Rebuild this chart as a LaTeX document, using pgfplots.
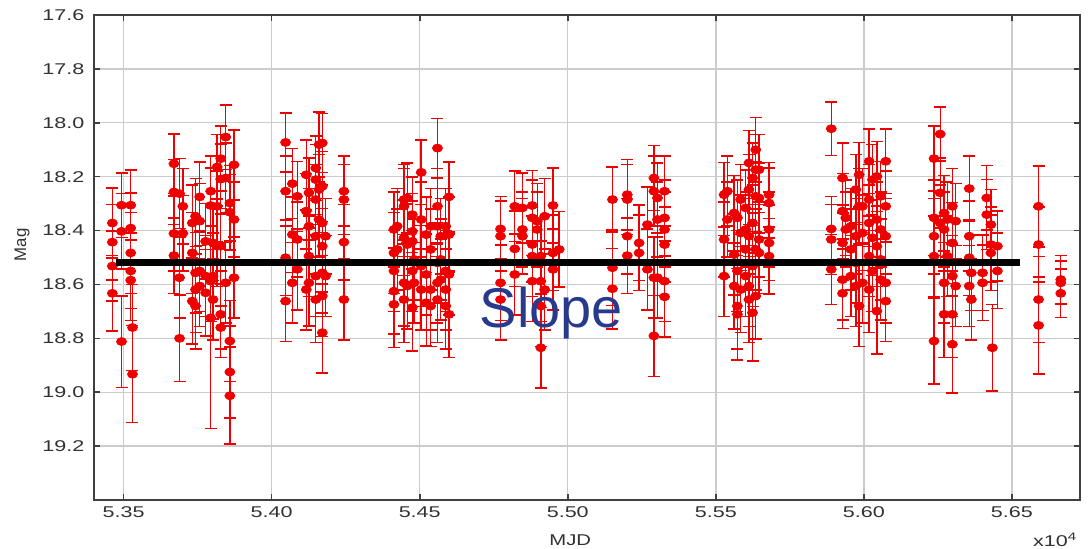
\documentclass[border=0pt]{standalone}
\usepackage{pgfplots}
\pgfplotsset{compat=1.18}
\usepackage{pgfplotstable}
\usepackage{fontspec}
\setmainfont{Liberation Sans}
\definecolor{ptred}{RGB}{238,0,0}
\definecolor{slopeblue}{RGB}{40,58,140}
\definecolor{labgray}{RGB}{50,50,50}

\pgfplotsset{error bars/draw error bar/.code 2 args={%
    \draw[color=ptred, line width=0.7pt] #1 -- #2;
    \draw[color=ptred, line width=0.8pt] #2 ++(-3pt,0pt) -- ++(6pt,0pt);
  }}

\pgfplotstableread{
x y e
53462 18.372 0.13
53462 18.443 0.14
53462 18.532 0.13
53462 18.633 0.14
53493 18.306 0.12
53493 18.403 0.14
53493 18.812 0.17
53524 18.306 0.13
53524 18.391 0.13
53524 18.483 0.15
53524 18.550 0.14
53524 18.584 0.15
53530 18.760 0.16
53530 18.933 0.18
53670 18.152 0.11
53670 18.257 0.12
53670 18.411 0.14
53670 18.493 0.14
53689 18.263 0.13
53689 18.575 0.15
53689 18.800 0.16
53700 18.310 0.14
53700 18.410 0.14
53732 18.372 0.14
53732 18.483 0.15
53732 18.662 0.16
53743 18.347 0.14
53743 18.557 0.15
53743 18.619 0.16
53743 18.680 0.16
53757 18.275 0.13
53757 18.365 0.14
53757 18.550 0.15
53757 18.606 0.15
53777 18.440 0.14
53777 18.569 0.15
53777 18.631 0.16
53794 18.254 0.13
53794 18.307 0.14
53794 18.588 0.15
53794 18.724 0.41
53802 18.446 0.14
53802 18.569 0.16
53802 18.656 0.15
53816 18.164 0.12
53816 18.310 0.13
53816 18.458 0.15
53828 18.133 0.12
53828 18.209 0.13
53828 18.458 0.14
53828 18.711 0.16
53828 18.760 0.08
53845 18.053 0.12
53845 18.205 0.13
53845 18.594 0.15
53859 18.298 0.14
53859 18.332 0.14
53859 18.810 0.15
53859 18.925 0.17
53859 19.013 0.18
53873 18.156 0.13
53873 18.359 0.14
53873 18.575 0.15
54047 18.073 0.11
54047 18.254 0.13
54047 18.501 0.14
54047 18.662 0.15
54070 18.226 0.13
54070 18.415 0.14
54070 18.594 0.15
54087 18.273 0.13
54087 18.433 0.14
54087 18.544 0.15
54117 18.193 0.13
54117 18.328 0.14
54117 18.619 0.15
54126 18.260 0.13
54126 18.384 0.14
54126 18.495 0.15
54126 18.594 0.16
54149 18.168 0.12
54149 18.211 0.13
54149 18.285 0.13
54149 18.421 0.14
54149 18.569 0.15
54149 18.656 0.16
54160 18.081 0.12
54160 18.248 0.13
54160 18.359 0.14
54171 18.075 0.11
54171 18.236 0.13
54171 18.372 0.14
54171 18.458 0.14
54171 18.557 0.15
54171 18.643 0.15
54171 18.779 0.15
54182 18.421 0.14
54182 18.569 0.15
54244 18.254 0.13
54244 18.285 0.13
54244 18.443 0.14
54244 18.656 0.15
54413 18.396 0.14
54413 18.483 0.15
54413 18.550 0.15
54413 18.625 0.16
54413 18.674 0.16
54424 18.384 0.14
54424 18.470 0.15
54447 18.285 0.13
54447 18.310 0.14
54447 18.427 0.14
54447 18.594 0.16
54447 18.656 0.16
54458 18.279 0.13
54458 18.452 0.15
54458 18.606 0.16
54475 18.341 0.14
54475 18.403 0.14
54475 18.440 0.15
54475 18.550 0.15
54475 18.686 0.16
54481 18.507 0.15
54481 18.594 0.15
54505 18.184 0.12
54505 18.359 0.14
54505 18.532 0.15
54505 18.619 0.15
54522 18.415 0.14
54522 18.563 0.15
54522 18.668 0.16
54537 18.384 0.14
54537 18.470 0.15
54537 18.619 0.15
54537 18.680 0.15
54560 18.094 0.11
54560 18.310 0.14
54560 18.384 0.14
54560 18.520 0.15
54560 18.594 0.15
54560 18.656 0.16
54571 18.421 0.14
54571 18.507 0.15
54571 18.582 0.15
54588 18.384 0.14
54588 18.550 0.15
54588 18.619 0.15
54588 18.680 0.16
54599 18.275 0.13
54599 18.415 0.14
54599 18.563 0.15
54599 18.711 0.16
54773 18.394 0.12
54773 18.421 0.13
54773 18.594 0.14
54773 18.656 0.15
54821 18.310 0.13
54821 18.468 0.14
54821 18.563 0.15
54847 18.316 0.13
54847 18.396 0.14
54847 18.421 0.14
54880 18.307 0.13
54880 18.353 0.14
54880 18.452 0.14
54880 18.495 0.15
54880 18.588 0.15
54897 18.365 0.14
54897 18.396 0.14
54909 18.495 0.14
54909 18.588 0.15
54909 18.680 0.15
54909 18.835 0.15
54922 18.347 0.14
54922 18.619 0.15
54950 18.307 0.14
54950 18.483 0.14
54950 18.544 0.15
54971 18.470 0.14
55151 18.285 0.12
55151 18.538 0.14
55151 18.616 0.15
55201 18.267 0.13
55201 18.285 0.13
55201 18.421 0.14
55201 18.493 0.14
55241 18.446 0.14
55241 18.483 0.14
55269 18.378 0.14
55269 18.544 0.15
55291 18.205 0.12
55291 18.254 0.13
55291 18.575 0.15
55291 18.791 0.15
55303 18.279 0.13
55303 18.359 0.14
55303 18.575 0.15
55327 18.254 0.13
55327 18.353 0.14
55327 18.396 0.14
55327 18.452 0.14
55327 18.588 0.15
55327 18.646 0.15
55528 18.267 0.12
55528 18.433 0.14
55528 18.569 0.15
55539 18.254 0.13
55539 18.359 0.14
55562 18.335 0.14
55562 18.489 0.15
55562 18.606 0.16
55573 18.353 0.14
55573 18.550 0.15
55573 18.680 0.16
55573 18.711 0.17
55584 18.285 0.13
55584 18.409 0.14
55584 18.619 0.16
55601 18.316 0.14
55601 18.396 0.14
55601 18.470 0.15
55601 18.569 0.15
55612 18.149 0.12
55612 18.248 0.13
55612 18.421 0.14
55612 18.606 0.15
55612 18.656 0.16
55624 18.205 0.13
55624 18.372 0.14
55624 18.532 0.15
55624 18.705 0.18
55635 18.100 0.12
55635 18.174 0.13
55635 18.273 0.13
55635 18.470 0.15
55635 18.643 0.16
55646 18.174 0.13
55646 18.279 0.13
55646 18.433 0.14
55646 18.483 0.15
55680 18.267 0.12
55680 18.298 0.13
55680 18.396 0.14
55680 18.446 0.14
55680 18.495 0.14
55890 18.022 0.10
55890 18.394 0.12
55890 18.433 0.13
55890 18.544 0.13
55928 18.205 0.13
55928 18.328 0.14
55928 18.446 0.14
55928 18.582 0.15
55928 18.633 0.13
55939 18.353 0.14
55939 18.396 0.14
55956 18.384 0.14
55956 18.470 0.15
55956 18.569 0.15
55973 18.248 0.13
55973 18.421 0.14
55973 18.520 0.15
55973 18.606 0.15
55984 18.193 0.12
55984 18.310 0.14
55984 18.680 0.15
55995 18.310 0.14
55995 18.409 0.14
55995 18.594 0.15
56018 18.143 0.12
56018 18.285 0.13
56018 18.372 0.14
56018 18.495 0.15
56018 18.619 0.16
56029 18.211 0.13
56029 18.427 0.14
56029 18.550 0.15
56044 18.199 0.13
56044 18.359 0.14
56044 18.458 0.15
56044 18.699 0.16
56057 18.273 0.13
56057 18.396 0.14
56057 18.507 0.15
56057 18.582 0.15
56074 18.143 0.12
56074 18.310 0.13
56074 18.421 0.14
56074 18.594 0.15
56074 18.662 0.15
56237 18.133 0.12
56237 18.353 0.14
56237 18.421 0.14
56237 18.495 0.15
56237 18.810 0.16
56258 18.042 0.10
56258 18.260 0.13
56258 18.372 0.14
56271 18.335 0.14
56271 18.396 0.14
56271 18.594 0.15
56271 18.711 0.16
56282 18.359 0.14
56282 18.495 0.15
56299 18.310 0.14
56299 18.446 0.15
56299 18.569 0.15
56299 18.711 0.16
56299 18.822 0.18
56310 18.365 0.14
56310 18.606 0.15
56356 18.244 0.12
56356 18.421 0.13
56356 18.501 0.14
56356 18.606 0.15
56363 18.557 0.14
56363 18.656 0.15
56401 18.557 0.14
56401 18.594 0.14
56415 18.279 0.12
56415 18.341 0.13
56429 18.378 0.13
56429 18.452 0.14
56429 18.483 0.14
56434 18.835 0.16
56451 18.458 0.13
56451 18.550 0.14
56590 18.310 0.15
56590 18.452 0.14
56590 18.656 0.16
56590 18.752 0.18
56665 18.582 0.09
56665 18.594 0.08
56665 18.633 0.09
}\magdata

\begin{document}
\begin{tikzpicture}
\begin{axis}[
  scale only axis,
  width=493pt, height=242.5pt,
  xmin=53400, xmax=56730,
  ymin=17.6, ymax=19.4,
  y dir=reverse,
  xtick={53500,54000,54500,55000,55500,56000,56500},
  xticklabels={5.35,5.40,5.45,5.50,5.55,5.60,5.65},
  ytick={17.6,17.8,18.0,18.2,18.4,18.6,18.8,19.0,19.2},
  yticklabels={17.6,17.8,18.0,18.2,18.4,18.6,18.8,19.0,19.2},
  scaled x ticks=false,
  grid=major,
  major grid style={draw=black!20, line width=0.7pt},
  axis line style={draw=black!75, line width=1pt},
  tick align=inside,
  major tick length=3pt,
  tick style={draw=black!75, line width=0.8pt},
  ticklabel style={font=\fontsize{7.8}{9}\selectfont, text=labgray, xscale=1.38},
  xlabel={MJD},
  xlabel style={at={(axis description cs:0.483,0)}, anchor=center, yshift=-20pt, font=\fontsize{7.8}{9}\selectfont, text=labgray, xscale=1.3},
  clip mode=individual,
]
\addplot[only marks, color=ptred, mark=*, mark size=2pt,
  mark options={xscale=1.25, color=ptred, fill=ptred},
  error bars/.cd, y dir=both, y explicit]
  table[x=x, y=y, y error=e] {\magdata};
\addplot[black, line width=3.4pt, no marks] coordinates {(53475,18.52) (56528,18.52)};
\node[anchor=base west, inner sep=0pt, text=slopeblue, font=\fontsize{28}{30}\selectfont] at (axis cs:54702,18.759) {Slope};
\coordinate (bl) at (rel axis cs:0,0);
\coordinate (tr) at (rel axis cs:1,1);
\coordinate (sc) at (rel axis cs:0.975,0);
\coordinate (ml) at (rel axis cs:0,0.526);
\end{axis}
\node[anchor=center, text=labgray, font=\fontsize{7.8}{9}\selectfont, xscale=1.38] at ([yshift=-20pt]sc) {x10\textsuperscript{4}};
\node[anchor=center, rotate=90, text=labgray, font=\fontsize{8.4}{9}\selectfont] at ([xshift=-36pt]ml) {Mag};
\pgfresetboundingbox
\path (bl) +(-47pt,-24.5pt) (tr) +(4.5pt,7.5pt);
\end{tikzpicture}
\end{document}
